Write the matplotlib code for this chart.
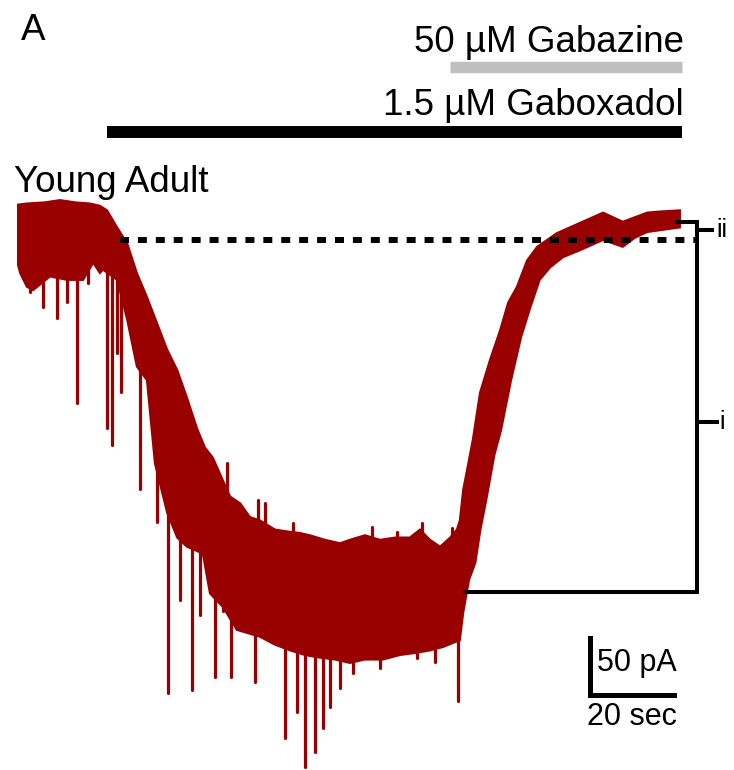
import numpy as np
import matplotlib.pyplot as plt

plt.rcParams['font.family'] = ['Liberation Sans', 'DejaVu Sans']

TRACE_COLOR = '#990000'

# upper edge of the current trace (time in sec, current in pA)
upper_t = [0, 2.1, 6.4, 10.0, 13.6, 17.1, 19.5, 21.2, 23.6, 26.0, 28.3, 30.7,
           33.1, 35.5, 37.9, 40.2, 42.6, 44.5, 46.4, 48.8, 50.5, 52.9, 55.2,
           57.6, 61.2, 64.8, 67.1, 69.5, 73.1, 76.7, 79.0, 82.6, 86.2,
           89.8, 93.3, 95.7, 98.1, 100.5, 102.9, 104.5, 105.2, 106.0, 106.9,
           108.3, 110.0, 112.4, 114.8, 116.7, 118.8, 121.2, 123.6, 128.3,
           133.8, 139.3, 144.0, 149.8, 152.9, 157.6]
upper_I = [31, 32, 33, 35, 33, 32, 30, 26, 11, -3, -29, -50,
           -73, -96, -114, -138, -165, -182, -191, -211, -225, -231, -243,
           -246, -254, -256, -257, -259, -263, -266, -263, -259, -263,
           -261, -261, -254, -263, -269, -261, -254, -246, -219, -202,
           -175, -134, -105, -79, -55, -41, -18, -6, 6,
           15, 24, 16, 24, 25, 26]

# lower edge of the noise band
lower_t = [0, 0.5, 2.1, 3.6, 7.6, 11.7, 15.5, 17.9, 19.5, 20.2, 23.6, 26.0,
           28.3, 30.7, 32.6, 35.5, 37.9, 40.2, 44.0, 45.7, 48.8, 52.1, 57.6,
           61.2, 64.8, 68.3, 71.2, 75.5, 79.0, 82.6, 86.9, 91.0, 95.0, 98.1,
           101.2, 105.2, 106.0, 107.4, 108.9, 110.1, 111.5, 113.4, 115.0,
           117.4, 119.8, 122.0, 124.2, 126.7, 129.8, 133.8, 139.3, 144.0,
           146.9, 149.8, 157.6]
lower_I = [-22, -29, -41, -44, -32, -35, -35, -20, -29, -26, -35, -70,
           -111, -123, -196, -239, -261, -269, -275, -310, -322, -342, -348,
           -355, -360, -364, -366, -368, -371, -368, -368, -364, -362, -360,
           -357, -351, -327, -298, -283, -254, -228, -189, -167,
           -123, -85, -59, -35, -24, -15, -9, 0, -6,
           2, 7, 11]

# downward spontaneous events: time (sec) and peak (pA)
spike_t = [2.9, 6.0, 9.3, 11.7, 14.0, 16.7, 21.2, 22.4, 23.6, 24.5, 29.0,
           33.1, 35.7, 38.6, 41.4, 43.3, 46.9, 48.8, 50.7, 56.4, 63.6, 66.4,
           68.3, 70.7, 72.6, 74.3, 76.7, 79.8, 86.2, 95.0, 99.3, 104.8]
spike_I = [-46, -59, -68, -54, -143, -38, -165, -180, -99, -133, -218,
           -247, -397, -316, -395, -329, -383, -325, -383, -388, -437, -414,
           -462, -449, -428, -410, -393, -380, -375, -367, -370, -404]

# small upward noise peaks on the plateau
up_t = [49.8, 57.1, 58.8, 65.5, 84.3, 90.2, 96.2, 103.3]
up_I = [-196, -228, -231, -248, -252, -256, -248, -253]

# drug applications (sec)
gaboxadol_on, gaboxadol_off = 21.2, 158.1
gabazine_on, gabazine_off = 102.9, 158.1

baseline_level = 0
peak_level = -309
end_level = 16

fig = plt.figure(figsize=(7.34, 7.70), dpi=100)
ax = fig.add_axes([0, 0, 1, 1])
ax.set_xlim(-4.29, 170.48)
ax.set_ylim(-464.9, 210.5)
ax.axis('off')

# trace
ax.fill(np.concatenate([upper_t, lower_t[::-1]]),
        np.concatenate([upper_I, lower_I[::-1]]),
        color=TRACE_COLOR, lw=1.5)
spike_top = np.interp(spike_t, lower_t, lower_I) + 8
ax.vlines(spike_t, spike_I, spike_top, color=TRACE_COLOR, lw=2.3,
          capstyle='round')
up_base = np.interp(up_t, upper_t, upper_I) - 8
ax.vlines(up_t, up_base, up_I, color=TRACE_COLOR, lw=2.3, capstyle='round')

# baseline and amplitude bracket
ax.plot([24.3, 161.7], [baseline_level, baseline_level], color='black',
        lw=4.3, linestyle=(0, (1.5, 1.5)), dash_capstyle='butt')
ax.plot([106.4, 161.7, 161.7, 156.9], [peak_level, peak_level, end_level, end_level],
        color='black', lw=2.9, solid_joinstyle='miter')
ax.plot([161.7, 165.2], [9, 9], color='black', lw=2.9)
ax.plot([161.7, 166.4], [-160, -160], color='black', lw=2.9)
ax.text(166.2, 9, 'ii', fontsize=18, ha='left', va='center')
ax.text(167.0, -160, 'i', fontsize=18, ha='left', va='center')

# drug bars
ax.plot([gabazine_on, gabazine_off], [152, 152], color='#bfbfbf', lw=8.2,
        solid_capstyle='butt')
ax.plot([gaboxadol_on, gaboxadol_off], [95, 95], color='black', lw=8.6,
        solid_capstyle='butt')
ax.text(158.6, 173, '50 µM Gabazine', fontsize=26.5, ha='right', va='center')
ax.text(158.6, 118, '1.5 µM Gaboxadol', fontsize=26.5, ha='right', va='center')
ax.text(-1.0, 50, 'Young Adult', fontsize=26.5, ha='left', va='center')
ax.text(0.6, 184, 'A', fontsize=26.5, ha='left', va='center')

# scale bar
ax.plot([136.2, 136.2, 156.2], [-349, -399, -399], color='black', lw=3.6,
        solid_joinstyle='miter')
ax.text(137.9, -371, '50 pA', fontsize=22, ha='left', va='center')
ax.text(146.2, -418, '20 sec', fontsize=22, ha='center', va='center')

fig.savefig('out.png', dpi=100)
